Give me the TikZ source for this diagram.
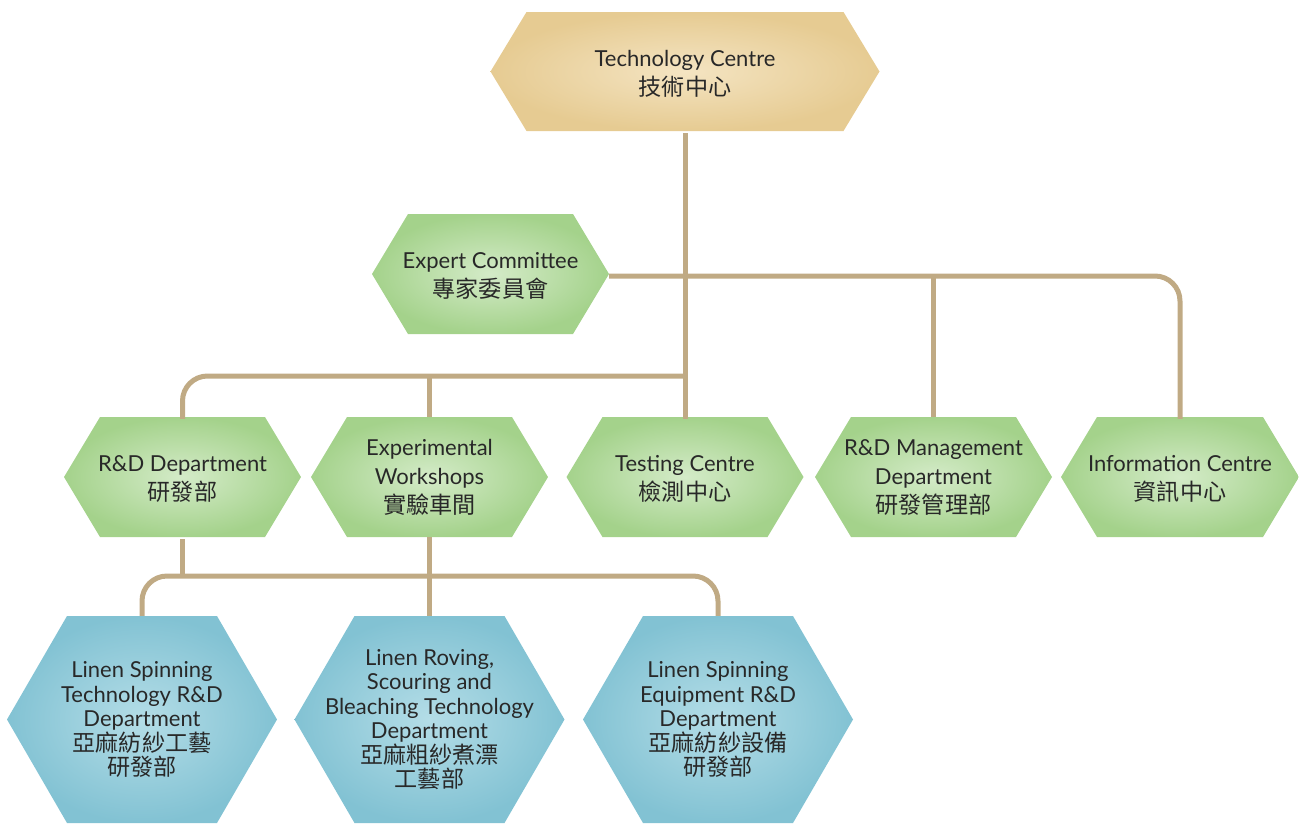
\documentclass[tikz,border=0pt]{standalone}
\usepackage{fontspec}
\setmainfont{Lato}
\newfontfamily\cjk[Scale=1.05]{Noto Sans CJK TC}
\definecolor{cclien}{RGB}{192,170,132}
\definecolor{cctexte}{RGB}{40,40,40}
\definecolor{ccbeige}{RGB}{230,203,146}
\definecolor{ccbeigeclair}{RGB}{244,228,194}
\definecolor{ccvert}{RGB}{164,210,139}
\definecolor{ccvertclair}{RGB}{212,235,200}
\definecolor{ccbleu}{RGB}{130,194,211}
\definecolor{ccbleuclair}{RGB}{180,221,231}

% #1 nom, #2 x, #3 y, #4 demi-largeur, #5 demi-hauteur, #6 retrait, #7 fond, #8 police, #9 texte
\newcommand{\hexagone}[9]{%
  \shade[#7] (#2-#4,#3) -- (#2-#4+#6,#3-#5) -- (#2+#4-#6,#3-#5) -- (#2+#4,#3)
    -- (#2+#4-#6,#3+#5) -- (#2-#4+#6,#3+#5) -- cycle ;
  \draw (#2,#3) node[boite, #8, minimum width={2*#4 pt}, minimum height={2*#5 pt}] (#1) {#9} ;
}
\newcommand{\zh}[1]{{\cjk #1}}

\begin{document}
\begin{tikzpicture}[x=1pt, y=-1pt]

  % Styles
  \tikzstyle{boite} = [inner sep=0pt, align=center, text=cctexte]
  \tikzstyle{large} = [font=\fontsize{22}{29}\selectfont]
  \tikzstyle{serre} = [font=\fontsize{22}{24.5}\selectfont]
  \tikzstyle{beige} = [inner color=ccbeigeclair, outer color=ccbeige]
  \tikzstyle{vert} = [inner color=ccvertclair, outer color=ccvert]
  \tikzstyle{bleu} = [inner color=ccbleuclair, outer color=ccbleu]
  \tikzstyle{lien} = [cclien, line width=5pt, rounded corners=25pt]

  % Cadre
  \useasboundingbox (0,0) rectangle (1299,823) ;

  % Niveaux des liens
  \coordinate (bus1) at (0,376) ;
  \coordinate (bus2) at (0,576) ;

  % Noeuds
  \hexagone{tech}{685}{71.5}{194.5}{59.5}{36}{beige}{large, yshift=-2pt}{Technology Centre\\\zh{技術中心}}
  \hexagone{expert}{490.5}{274}{118.5}{60}{36}{vert}{large, yshift=-2pt}{Expert Committee\\\zh{專家委員會}}

  \hexagone{rd}{182.5}{477}{118.5}{60}{36}{vert}{large, yshift=-2pt}{R\&D Department\\\zh{研發部}}
  \hexagone{exp}{429.5}{477}{118.5}{60}{36}{vert}{large}{Experimental\\Workshops\\\zh{實驗車間}}
  \hexagone{test}{685}{477}{118.5}{60}{36}{vert}{large, yshift=-2pt}{Testing Centre\\\zh{檢測中心}}
  \hexagone{rdm}{933.5}{477}{118.5}{60}{36}{vert}{large}{R\&D Management\\Department\\\zh{研發管理部}}
  \hexagone{info}{1180}{477}{119}{60}{36}{vert}{large, yshift=-2pt}{Information Centre\\\zh{資訊中心}}

  \hexagone{lin1}{142}{719.5}{135}{103.5}{60}{bleu}{serre}{Linen Spinning\\Technology R\&D\\Department\\\zh{亞麻紡紗工藝}\\\zh{研發部}}
  \hexagone{lin2}{429.5}{719.5}{135}{103.5}{60}{bleu}{serre}{Linen Roving,\\Scouring and\\Bleaching Technology\\Department\\\zh{亞麻粗紗煮漂}\\\zh{工藝部}}
  \hexagone{lin3}{718}{719.5}{135}{103.5}{60}{bleu}{serre}{Linen Spinning\\Equipment R\&D\\Department\\\zh{亞麻紡紗設備}\\\zh{研發部}}

  % Connexions
  \draw[lien] (tech.south) -- (test.north) ;
  \draw[lien] (expert.east) -- (info.north |- expert.east) -- (info.north) ;
  \draw[lien] (rdm.north |- expert.east) -- (rdm.north) ;
  \draw[lien] (test.north |- bus1) -- (rd.north |- bus1) -- (rd.north) ;
  \draw[lien] (exp.north |- bus1) -- (exp.north) ;
  \draw[lien] (rd.south) -- (rd.south |- bus2) ;
  \draw[lien] (lin1.north) -- (lin1.north |- bus2) -- (lin3.north |- bus2) -- (lin3.north) ;
  \draw[lien] (exp.south) -- (lin2.north) ;

\end{tikzpicture}
\end{document}
